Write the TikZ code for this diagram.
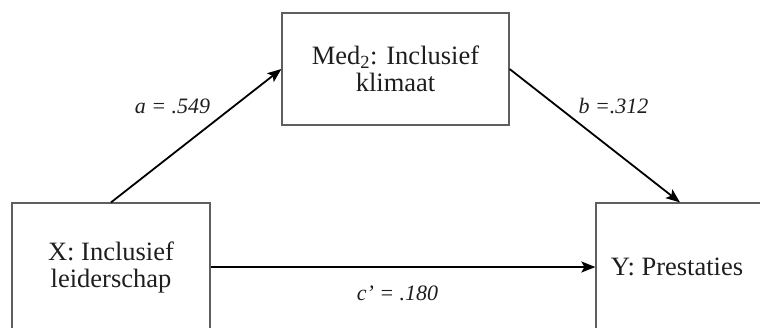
\documentclass[tikz,border=0pt]{standalone}
\usepackage{fontspec}
\setmainfont{Liberation Serif}
\usetikzlibrary{arrows.meta}
\definecolor{boxline}{RGB}{95,95,95}
\definecolor{txt}{RGB}{30,30,30}
\tikzset{
  varbox/.style={draw=boxline, line width=1.2pt, rectangle, align=center, inner sep=0pt,
    text=txt, font=\fontsize{26.5}{27}\selectfont},
  patharrow/.style={line width=1.8pt, -{Stealth[length=14pt,width=11pt,inset=3pt]}},
  coef/.style={font=\fontsize{22}{24}\selectfont\itshape, text=txt, anchor=base, inner sep=0pt}
}
\begin{document}
\begin{tikzpicture}[x=1pt,y=-1pt]
\useasboundingbox (0,0) rectangle (760,327);
\clip (0,0) rectangle (760,327);
\node[varbox, minimum width=227pt, minimum height=112pt] (med) at (395.5,69) {Med\textsubscript{2}: Inclusief\\klimaat};
\node[varbox, minimum width=198pt, minimum height=128pt] (x) at (111,267) {X: Inclusief\\leiderschap};
\node[varbox, minimum width=168pt, minimum height=128pt] (y) at (680,267) {\hspace*{-6pt}Y: Prestaties};
\draw[patharrow] (x.north) -- (med.west);
\draw[patharrow] (med.east) -- (y.north);
\draw[patharrow] (x.east) -- (y.west);
\node[coef] (la) at (172.5,113) {a = .549};
\node[coef] (lb) at (613.5,113) {b =.312};
\node[coef] (lc) at (397.5,300) {c’ = .180};
\end{tikzpicture}
\end{document}
